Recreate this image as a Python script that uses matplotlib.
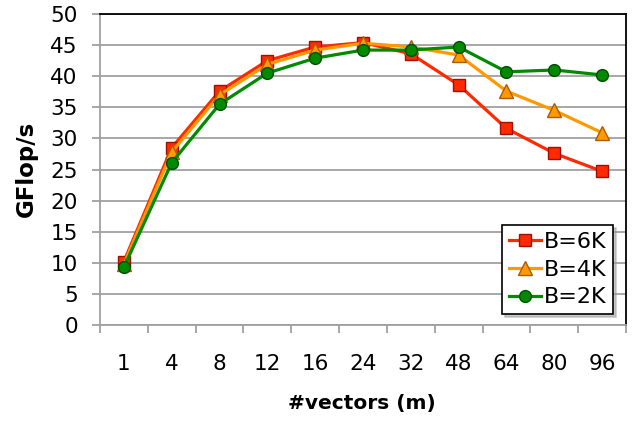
import numpy as np
import matplotlib.pyplot as plt

plt.rcParams['font.family'] = ['DejaVu Sans']

categories = ['1', '4', '8', '12', '16', '24', '32', '48', '64', '80', '96']
b6k = [10.2, 28.5, 37.6, 42.5, 44.7, 45.4, 43.6, 38.6, 31.6, 27.6, 24.7]
b4k = [9.8, 27.8, 37.0, 41.9, 44.2, 45.3, 44.7, 43.4, 37.6, 34.5, 30.9]
b2k = [9.3, 26.1, 35.5, 40.5, 42.9, 44.2, 44.2, 44.7, 40.7, 41.0, 40.2]
yticks = [0, 5, 10, 15, 20, 25, 30, 35, 40, 45, 50]


def main():
    fig = plt.figure(figsize=(6.41, 4.22), dpi=100)
    # plot area in pixels: left 100, right 626, top 14, bottom 325
    ax = fig.add_axes([100 / 641, 1 - 325 / 422, (626 - 100) / 641, (325 - 14) / 422])

    x = np.arange(len(categories))
    ax.plot(x, b6k, color='#ff2a00', lw=2.3, marker='s', ms=8.5,
            mfc='#ff2a00', mec='#a01000', mew=1, label='B=6K', zorder=3)
    ax.plot(x, b4k, color='#ff9900', lw=2.3, marker='^', ms=9.5,
            mfc='#ff9900', mec='#b05a00', mew=1, label='B=4K', zorder=4)
    ax.plot(x, b2k, color='#008a00', lw=2.3, marker='o', ms=8.5,
            mfc='#008a00', mec='#004d00', mew=1, label='B=2K', zorder=5)

    ax.set_xlim(-0.5, len(categories) - 0.5)
    ax.set_ylim(0, 50)
    ax.set_yticks(yticks)
    ax.yaxis.grid(True, color='#a0a0a0', lw=1.3)
    ax.set_axisbelow(True)

    # category labels centred, tick marks on the boundaries
    ax.set_xticks(x)
    ax.set_xticklabels(categories)
    ax.tick_params(axis='x', length=0, pad=21, labelsize=15.5)
    ax.set_xticks(np.arange(-0.5, len(categories)), minor=True)
    ax.tick_params(axis='x', which='minor', length=6, color='#a0a0a0', width=1.3)
    ax.tick_params(axis='y', length=6, color='#a0a0a0', width=1.3, labelsize=15.5, pad=10)

    for side in ['top', 'right']:
        ax.spines[side].set_color('black')
        ax.spines[side].set_linewidth(1.3)
    for side in ['left', 'bottom']:
        ax.spines[side].set_color('#a0a0a0')
        ax.spines[side].set_linewidth(1.3)

    ax.set_ylabel('GFlop/s', fontsize=16.5, fontweight='bold')
    ax.set_xlabel('#vectors (m)', fontsize=14.5, fontweight='bold')
    ax.xaxis.set_label_coords((362 - 100) / 526, -(404 - 325) / 311)
    ax.xaxis.label.set_va('center')
    ax.yaxis.set_label_coords(-(100 - 26) / 526, (325 - 169) / 311)
    ax.yaxis.label.set_va('center')

    leg = ax.legend(loc='lower right', bbox_to_anchor=(0.975, 0.035), fontsize=16,
                    frameon=True, fancybox=False,
                    shadow={'color': '#999999', 'alpha': 0.5},
                    borderpad=0.3, handlelength=1.45, handletextpad=0.1,
                    labelspacing=0.35, borderaxespad=0)
    leg.get_frame().set_edgecolor('black')
    leg.get_frame().set_linewidth(1.2)

    fig.savefig('out.png', dpi=100)


if __name__ == "__main__":
    main()
